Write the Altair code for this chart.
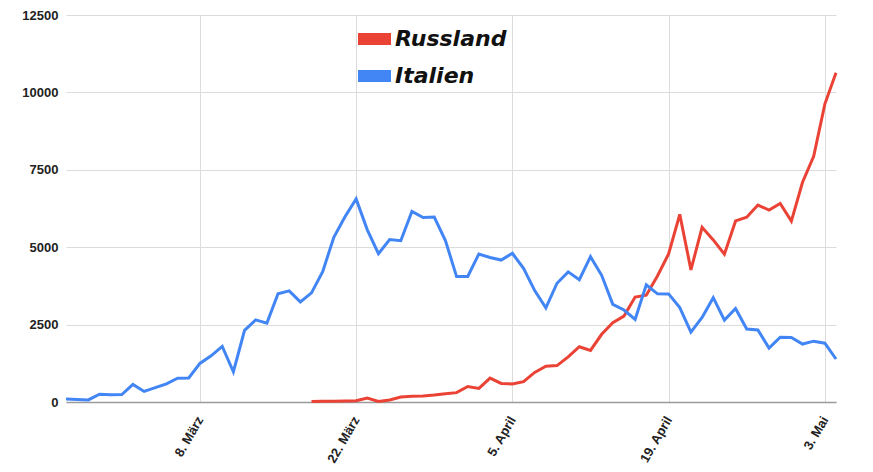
import altair as alt
import pandas as pd

# ---- data ----
series_names = ["Russland", "Italien"]
series_colors = ["#EA4335", "#4285F4"]

italy_start = "2020-02-25"
italy_values = [
    95, 80, 68, 250, 238,
    240, 566, 342, 466, 587, 769, 778, 1247, 1492, 1797, 977, 2313, 2651, 2547,
    3497, 3590, 3233, 3526, 4207, 5322, 5986, 6557, 5560, 4789, 5249, 5210, 6153,
    5959, 5974, 5217, 4050,
    4053, 4782, 4668, 4585, 4805, 4316, 3599, 3039, 3836, 4204, 3951, 4694, 4092,
    3153, 2972, 2667, 3786, 3493, 3491, 3047, 2256, 2729, 3370, 2646, 3021, 2357,
    2324, 1739, 2091, 2086,
    1872, 1965, 1900, 1389,
]

russia_start = "2020-03-18"
russia_values = [
    15, 22, 28, 34, 40, 130, 15, 65, 163, 182, 196, 228, 270, 302,
    500, 440, 771, 601, 582, 658, 954, 1154, 1175, 1459, 1786, 1667, 2186, 2558,
    2774, 3388, 3448, 4070, 4785, 6060, 4268, 5642, 5236, 4774, 5849, 5966, 6361,
    6198, 6411, 5841,
    7099, 7933, 9623, 10633,
]

x_tick_dates = [(3, 8), (3, 22), (4, 5), (4, 19), (5, 3)]
y_ticks = [0, 2500, 5000, 7500, 10000, 12500]

# ---- tables ----
rows = []
for name, start, vals in [("Russland", russia_start, russia_values),
                          ("Italien", italy_start, italy_values)]:
    dates = pd.date_range(start, periods=len(vals), freq="D")
    for d, v in zip(dates, vals):
        rows.append({"Datum": d.strftime("%Y-%m-%d"), "Land": name, "Faelle": v})
df = pd.DataFrame(rows)

legend_df = pd.DataFrame({"Land": series_names, "rank": list(range(len(series_names)))})

color_scale = alt.Scale(domain=series_names, range=series_colors)

x_axis = alt.Axis(
    values=[alt.DateTime(year=2020, month=m, date=d, utc=True) for m, d in x_tick_dates],
    labelExpr="utcdate(datum.value) + '. ' + ['Januar','Februar','März','April','Mai','Juni'][utcmonth(datum.value)]",
    labelAngle=-60,
    labelAlign="right",
    labelBaseline="middle",
    labelPadding=15,
    labelOverlap=False,
    labelBound=False,
    labelFont="Liberation Sans",
    labelFontWeight="bold",
    labelFontSize=13,
    labelColor="#222222",
    ticks=False,
    domain=True,
    domainColor="#9a9a9a",
    domainWidth=1.5,
    grid=True,
    gridColor="#dcdcdc",
    title=None,
)

y_axis = alt.Axis(
    values=y_ticks,
    format="d",
    labelFont="Liberation Sans",
    labelFontWeight="bold",
    labelFontSize=13,
    labelColor="#222222",
    labelPadding=8,
    ticks=False,
    domain=False,
    grid=True,
    gridColor="#dcdcdc",
    title=None,
)

lines = alt.Chart(df).mark_line(strokeWidth=3).encode(
    x=alt.X("Datum:T",
            scale=alt.Scale(type="utc",
                            domain=[alt.DateTime(year=2020, month=2, date=25, utc=True),
                                    alt.DateTime(year=2020, month=5, date=4, utc=True)]),
            axis=x_axis),
    y=alt.Y("Faelle:Q", scale=alt.Scale(domain=[0, 12500], nice=False), axis=y_axis),
    color=alt.Color("Land:N", scale=color_scale, legend=None),
)

legend_y = alt.Y("rank:Q", scale=alt.Scale(domain=[0, 1], range=[24, 61]), axis=None)

legend_swatches = alt.Chart(legend_df).mark_rule(strokeWidth=12).encode(
    x=alt.value(292),
    x2=alt.value(325),
    y=legend_y,
    color=alt.Color("Land:N", scale=color_scale, legend=None),
)

legend_labels = alt.Chart(legend_df).mark_text(
    align="left",
    baseline="middle",
    font="DejaVu Sans",
    fontSize=22,
    fontWeight="bold",
    fontStyle="italic",
    color="#111111",
).encode(
    x=alt.value(329),
    y=legend_y,
    text="Land:N",
)

chart = alt.layer(lines, legend_swatches, legend_labels).resolve_scale(
    y="independent"
).properties(
    width=770,
    height=387,
    autosize=alt.AutoSizeParams(type="none"),
    padding={"left": 58, "top": 7, "right": 29, "bottom": 62},
    background="white",
).configure_view(strokeWidth=0)

chart.save("out.html", embed_options={"renderer": "svg", "actions": False})
